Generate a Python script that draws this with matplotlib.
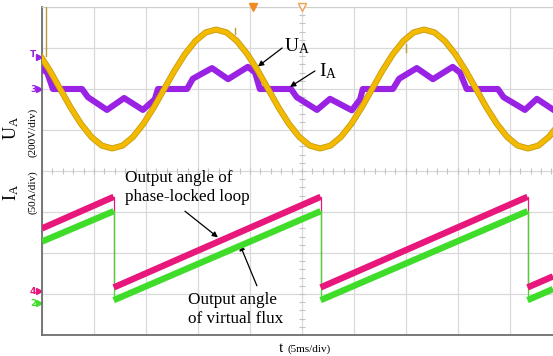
import numpy as np
import matplotlib
matplotlib.use("Agg")
import matplotlib.pyplot as plt

# time axis in ms (5 ms/div), amplitudes in screen divisions
u_t = np.arange(-0.25, 50.0, 1.0)
u_a = [2.85, 2.45, 2.00, 1.55, 1.15, 0.83, 0.62, 0.55, 0.62, 0.83,
       1.15, 1.55, 2.00, 2.45, 2.85, 3.17, 3.38, 3.45, 3.38, 3.17,
       2.85, 2.45, 2.00, 1.55, 1.15, 0.83, 0.62, 0.55, 0.62, 0.83,
       1.15, 1.55, 2.00, 2.45, 2.85, 3.17, 3.38, 3.45, 3.38, 3.17,
       2.85, 2.45, 2.00, 1.55, 1.15, 0.83, 0.62, 0.55, 0.62, 0.83,
       1.15]

i_t = [0.0, 0.5, 1.05, 3.85, 4.42, 6.25, 7.9, 9.7, 10.85, 11.15,
       13.95, 14.5, 16.35, 17.9, 19.8, 20.5, 20.95, 23.95, 24.5, 26.45,
       27.7, 29.8, 30.6, 30.85, 33.75, 34.35, 36.05, 37.6, 39.5, 40.2,
       40.85, 43.85, 44.4, 46.45, 47.6, 49.15]
i_a = [2.49, 2.40, 2.0, 2.0, 1.80, 1.49, 1.78, 1.49, 1.75, 2.0,
       2.0, 2.25, 2.51, 2.24, 2.54, 2.40, 2.0, 2.0, 1.80, 1.49,
       1.76, 1.48, 1.75, 2.0, 2.0, 2.25, 2.51, 2.24, 2.54, 2.40,
       2.0, 2.0, 1.80, 1.49, 1.76, 1.50]

saw_t = [0.0, 6.9, 6.9, 26.8, 26.8, 46.7, 46.7, 49.15]
pll_angle = [-1.40, -0.63, -2.84, -0.63, -2.84, -0.63, -2.84, -2.57]
flux_angle = [-1.72, -0.98, -3.15, -0.98, -3.15, -0.98, -3.15, -2.88]

# small glitches on the voltage channel
spike_t = [0.38, 18.6, 35.0]
spike_lo = [2.80, 3.34, 2.90]
spike_hi = [4.00, 3.50, 3.10]

plt.rcParams["font.family"] = "Liberation Serif"
plt.rcParams["mathtext.fontset"] = "custom"
plt.rcParams["mathtext.rm"] = "Liberation Serif"
plt.rcParams["mathtext.it"] = "Liberation Serif:italic"

fig = plt.figure(figsize=(5.53, 3.56), dpi=100)
ax = fig.add_axes([42 / 553, 21 / 356, 511 / 553, 328 / 356])
ax.set_xlim(0, 49.15)
ax.set_ylim(-4, 4)

ax.set_xticks(np.arange(0, 50, 5))
ax.set_yticks(np.arange(-4, 5, 1))
ax.grid(True, color="#D9D9D9", lw=0.9)
ax.tick_params(length=0, labelbottom=False, labelleft=False)
ax.set_axisbelow(True)
for s in ["left", "bottom"]:
    ax.spines[s].set_color("#6E6E6E")
    ax.spines[s].set_linewidth(1.3)
ax.spines["top"].set_color("#CFCFCF")
ax.spines["right"].set_visible(False)

# minor ticks on the centre lines
mx = np.arange(0, 49.2, 1.0)
ax.plot(mx, np.zeros_like(mx), ls="none", marker="|", ms=4, color="#C4C4C4", mew=0.8, zorder=1)
my = np.arange(-4, 4.01, 0.2)
ax.plot(np.full_like(my, 25), my, ls="none", marker="_", ms=4, color="#C4C4C4", mew=0.8, zorder=1)

# current and voltage
ax.plot(i_t, i_a, color="#9A22E4", lw=4.4, solid_joinstyle="round", zorder=3)
ax.plot(u_t, u_a, color="#C49C10", lw=4.4, zorder=4)
ax.plot(u_t, u_a, color="#F4BA00", lw=3.2, zorder=4)
for t, lo, hi in zip(spike_t, spike_lo, spike_hi):
    ax.plot([t, t], [lo, hi], color="#B89A40", lw=1.0, zorder=4)

# angle sawtooths: thick ramps, thin transitions
for ys, col in [(pll_angle, "#E8177C"), (flux_angle, "#3FDD2A")]:
    for k in range(len(saw_t) - 1):
        xs = saw_t[k:k + 2]
        yy = ys[k:k + 2]
        if xs[0] == xs[1]:
            ax.plot(xs, yy, color=col, lw=0.9, zorder=3)
        else:
            ax.plot(xs, yy, color=col, lw=4.6, solid_capstyle="butt", zorder=4)

# trigger markers at the top
ax.plot([20.29], [4.0], marker="v", color="#F08A1C", ms=6, clip_on=False, zorder=6)
ax.plot([25.0], [4.0], marker="v", mfc="white", mec="#F0A050", ms=6, clip_on=False, zorder=6)

# channel markers
ax.text(-0.55, 2.85, "T", color="#9A22E4", fontsize=6.5, ha="right", va="center",
        family="DejaVu Sans", fontweight="bold")
ax.plot([-0.25], [2.78], marker=">", color="#9A22E4", ms=4, clip_on=False)
for lab, yv, col in [("3", 2.0, "#9A22E4"), ("4", -2.93, "#E8177C"), ("2", -3.22, "#3FDD2A")]:
    ax.text(-0.55, yv, lab, color=col, fontsize=6.5, ha="right", va="center",
            family="DejaVu Sans", fontweight="bold")
    ax.plot([-0.25], [yv], marker=">", color=col, ms=4, clip_on=False)

arrow = dict(arrowstyle="-|>", color="black", lw=0.9, mutation_scale=8, shrinkA=0, shrinkB=0)
ax.annotate("", xy=(20.77, 2.55), xytext=(23.1, 3.0), arrowprops=arrow)
ax.text(23.3, 2.93, r"U$_{\mathrm{A}}$", fontsize=14, ha="left", va="baseline")
ax.annotate("", xy=(23.85, 2.05), xytext=(26.25, 2.44), arrowprops=arrow)
ax.text(26.6, 2.3, r"I$_{\mathrm{A}}$", fontsize=14, ha="left", va="baseline")

ax.text(8.0, -0.41, "Output angle of\nphase-locked loop", fontsize=12.3,
        ha="left", va="center", linespacing=1.25)
ax.annotate("", xy=(16.92, -1.62), xytext=(13.75, -0.98), arrowprops=arrow)
ax.text(14.04, -3.37, "Output angle\nof virtual flux", fontsize=12.3,
        ha="left", va="center", linespacing=1.25)
ax.annotate("", xy=(19.04, -1.8), xytext=(20.67, -2.8), arrowprops=arrow)

# axis labels
fig.text(11 / 553, 1 - 128 / 356, r"U$_{\mathrm{A}}$", rotation=90, fontsize=13,
         ha="center", va="center")
fig.text(33 / 553, 1 - 132 / 356, "(200V/div)", rotation=90, fontsize=8,
         ha="center", va="center")
fig.text(11 / 553, 1 - 192 / 356, r"I$_{\mathrm{A}}$", rotation=90, fontsize=13,
         ha="center", va="center")
fig.text(33 / 553, 1 - 192 / 356, "(50A/div)", rotation=90, fontsize=8,
         ha="center", va="center")
fig.text(279 / 553, 1 - 349 / 356, "t", fontsize=11, ha="left", va="center")
fig.text(287 / 553, 1 - 349 / 356, "(5ms/div)", fontsize=8, ha="left", va="center")

fig.savefig("out.png", dpi=100)
